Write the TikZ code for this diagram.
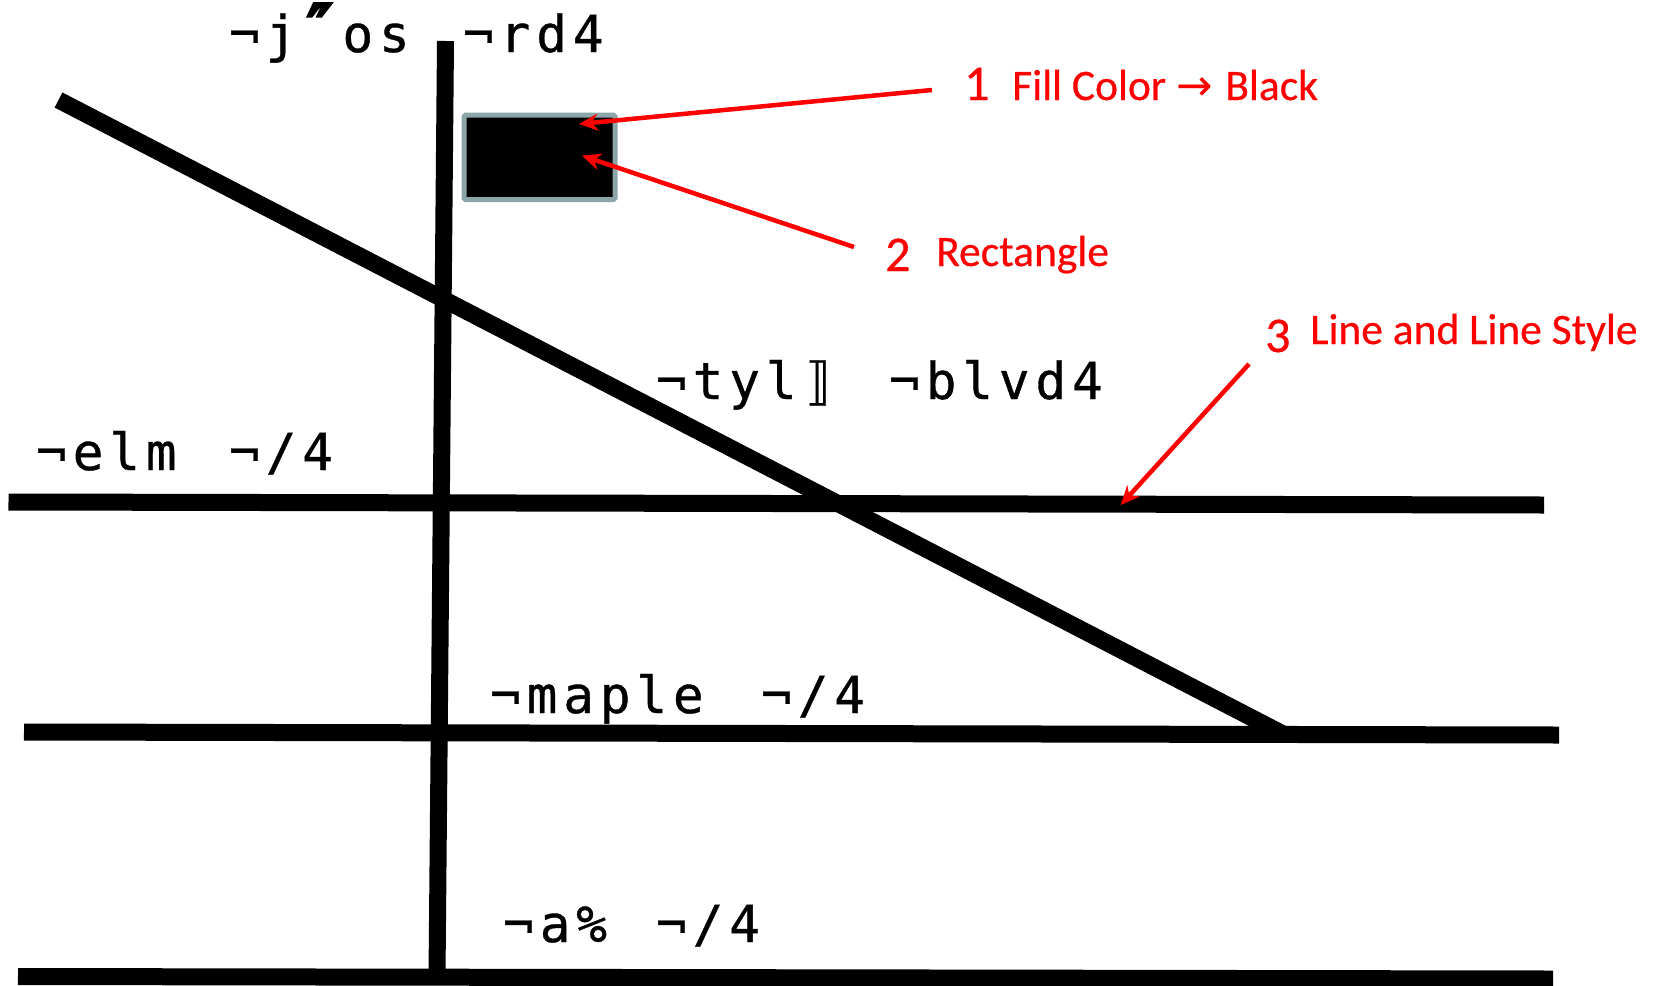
\documentclass[tikz,border=0pt]{standalone}
\usepackage{fontspec}
\usetikzlibrary{arrows.meta}
\newfontfamily\streetfont[LetterSpace=11.5,FakeBold=0.7]{DejaVu Sans Mono}
\newfontfamily\wedgefont[FakeBold=5]{DejaVu Sans Mono}
\newfontfamily\notefont[FakeBold=0.5]{Carlito}
\newfontfamily\symfont{DejaVu Sans}
\newcommand{\wedgemark}{\makebox[46pt][c]{\wedgefont\fontsize{66}{60}\selectfont ″}}
\definecolor{notered}{RGB}{255,0,0}
\definecolor{boxedge}{RGB}{140,165,168}
\tikzset{
  road/.style={draw=black,line width=17pt,line cap=butt},
  streetname/.style={anchor=base west,inner sep=0pt,font=\streetfont\fontsize{51}{60}\selectfont,text=black},
  notetext/.style={anchor=base west,inner sep=0pt,font=\notefont\fontsize{43.5}{52}\selectfont,text=notered},
  notenum/.style={anchor=base west,inner sep=0pt,font=\notefont\fontsize{50}{56}\selectfont,text=notered},
  pointer/.style={draw=notered,line width=4.5pt,-{Stealth[length=19pt,width=17pt]}},
  parcel/.style={draw=boxedge,fill=black,line width=5pt,rounded corners=1.5pt,minimum width=151pt,minimum height=84.5pt,inner sep=0pt}
}
\begin{document}
\begin{tikzpicture}[x=1pt,y=-1pt]
\useasboundingbox (0,0) rectangle (1661,985);
\fill[white] (0,0) rectangle (1661,985);
% roads
\coordinate (vt) at (445.5,41);
\coordinate (vb) at (437,976);
\coordinate (dt) at (58.5,100);
\coordinate (db) at (1285,735);
\coordinate (e1) at (8.5,502);
\coordinate (e2) at (1544,505);
\coordinate (m1) at (24,732);
\coordinate (m2) at (1559,735);
\coordinate (a1) at (18,976.5);
\coordinate (a2) at (1553,979);
\draw[road] (vt) -- (vb);
\draw[road] (dt) -- (db);
\draw[road] (e1) -- (e2);
\draw[road] (m1) -- (m2);
\draw[road] (a1) -- (a2);
% parcel
\node[parcel] (box) at (539.5,157.3) {};
% street names
\node[streetname] (jos) at (229,52) {¬j\wedgemark os};
\node[streetname] (rd) at (463,52) {¬rd4};
\node[streetname] (tyl) at (656,399) {¬tyl⟧};
\node[streetname] (blvd) at (889,399) {¬blvd4};
\node[streetname] (elm) at (36,470) {¬elm};
\node[streetname] (elmn) at (229,470) {¬/4};
\node[streetname] (maple) at (490,713) {¬maple};
\node[streetname] (maplen) at (761,713) {¬/4};
\node[streetname] (ap) at (503,942) {¬a\%};
\node[streetname] (apn) at (656,942) {¬/4};
% notes
\node[notenum] (n1) at (964,100) {1};
\node[notetext] (t1) at (1012,100) {Fill Color {\symfont→}\hspace{3pt} Black};
\node[notenum] (n2) at (885,271) {2};
\node[notetext] (t2) at (936,266) {Rectangle};
\node[notenum] (n3) at (1265,352) {3};
\node[notetext] (t3) at (1310,344) {Line and Line Style};
% pointers
\coordinate (p1s) at (932,90);
\coordinate (p1e) at (579,124);
\coordinate (p2s) at (854,247);
\coordinate (p2e) at (582,155.7);
\coordinate (p3s) at (1249,364);
\coordinate (p3e) at (1120.7,505);
\draw[pointer] (p1s) -- (p1e);
\draw[pointer] (p2s) -- (p2e);
\draw[pointer] (p3s) -- (p3e);
\end{tikzpicture}
\end{document}
